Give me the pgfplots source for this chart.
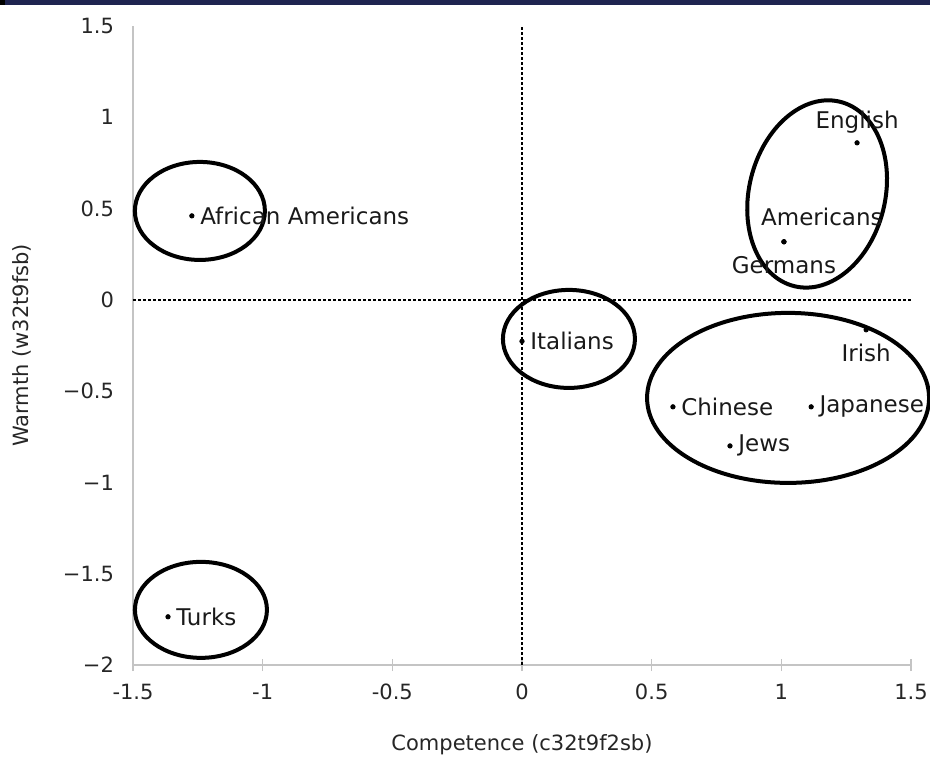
\documentclass[border=0pt]{standalone}
\usepackage{fontspec}
\setmainfont{DejaVu Sans}
\usepackage{pgfplots}
\pgfplotsset{compat=1.18}
\definecolor{topbar}{HTML}{1F2450}
\definecolor{axgray}{HTML}{C4C4C4}
\begin{document}
\begin{tikzpicture}
\begin{axis}[
  at={(0,0)}, anchor=south west,
  scale only axis, width=389pt, height=319.5pt,
  xmin=-1.5, xmax=1.5, ymin=-2, ymax=1.5,
  xtick={-1.5,-1,-0.5,0,0.5,1,1.5},
  xticklabels={-1.5,-1,-0.5,0,0.5,1,1.5},
  ytick={-2,-1.5,-1,-0.5,0,0.5,1,1.5},
  yticklabels={−2,−1.5,−1,−0.5,0,0.5,1,1.5},
  axis x line=bottom, axis y line=left,
  axis line style={-, draw=axgray, line width=1.2pt},
  x tick style={draw=axgray, line width=0.8pt},
  tick align=center, major tick length=6pt,
  y tick style={draw=none},
  ticklabel style={font=\fontsize{10.5}{12}\selectfont, text=black!85},
  xticklabel style={yshift=-3pt},
  yticklabel style={xshift=-3pt},
  xlabel={Competence (c32t9f2sb)}, ylabel={Warmth (w32t9fsb)},
  label style={font=\fontsize{10.5}{12}\selectfont, text=black!85},
  xlabel style={at={(axis description cs:0.5,-0.1252)}, anchor=center},
  ylabel style={at={(axis description cs:-0.1427,0.5)}, anchor=center},
  clip=false,
]
% reference lines
\addplot[black, line width=0.8pt, dash pattern=on 1.5pt off 1pt] coordinates {(0,-2) (0,1.5)};
\addplot[black, line width=0.8pt, dash pattern=on 1.5pt off 1pt] coordinates {(-1.5,0) (1.5,0)};
% points labelled to the right
\addplot[only marks, mark=*, mark size=1.1pt, black,
  nodes near coords, point meta=explicit symbolic,
  nodes near coords style={anchor=west, inner sep=0pt, xshift=4pt, font=\fontsize{11.5}{13}\selectfont, text=black!90}]
  table[col sep=comma, meta=label] {
x,y,label
-1.273,0.46,African Americans
-1.365,-1.736,Turks
0.0,-0.227,Italians
0.582,-0.586,Chinese
1.115,-0.586,Japanese
0.802,-0.80,Jews
};
% labels above
\addplot[only marks, mark=*, mark size=1.1pt, black,
  nodes near coords, point meta=explicit symbolic,
  nodes near coords style={anchor=south, inner sep=0pt, yshift=4.5pt, font=\fontsize{11.5}{13}\selectfont, text=black!90}]
  table[col sep=comma, meta=label] {
x,y,label
1.292,0.86,English
};
% labels below
\addplot[only marks, mark=*, mark size=1.1pt, black,
  nodes near coords, point meta=explicit symbolic,
  nodes near coords style={anchor=north, inner sep=0pt, yshift=-7pt, font=\fontsize{11.5}{13}\selectfont, text=black!90}]
  table[col sep=comma, meta=label] {
x,y,label
1.327,-0.164,Irish
1.010,0.318,Germans
};
% Americans (label up and to the right)
\addplot[only marks, mark=*, mark size=1.1pt, black,
  nodes near coords, point meta=explicit symbolic,
  nodes near coords style={anchor=south, inner sep=0pt, xshift=19pt, yshift=8pt, font=\fontsize{11.5}{13}\selectfont, text=black!90}]
  table[col sep=comma, meta=label] {
x,y,label
1.010,0.318,Americans
};
% hand-drawn ellipses
\draw[black, line width=2pt] (axis cs:-1.242,0.487) ellipse [x radius=32.5pt, y radius=24.5pt];
\draw[black, line width=2pt] (axis cs:-1.238,-1.698) ellipse [x radius=33pt, y radius=24pt];
\draw[black, line width=2pt] (axis cs:0.181,-0.214) ellipse [x radius=33pt, y radius=24.5pt];
\draw[black, line width=2pt] (axis cs:1.026,-0.537) ellipse [x radius=70.5pt, y radius=42.5pt];
\draw[black, line width=2pt] (axis cs:1.138,0.58) circle [x radius=47.5pt, y radius=34pt, rotate=76];
\end{axis}
\pgfresetboundingbox
\fill[topbar] (-66.5pt,330pt) rectangle (398.5pt,332.5pt);
\fill[black] (-66.5pt,330pt) rectangle (-64pt,332.5pt);
\path[use as bounding box] (-66.5pt,-50pt) rectangle (398.5pt,332.5pt);
\end{tikzpicture}
\end{document}
